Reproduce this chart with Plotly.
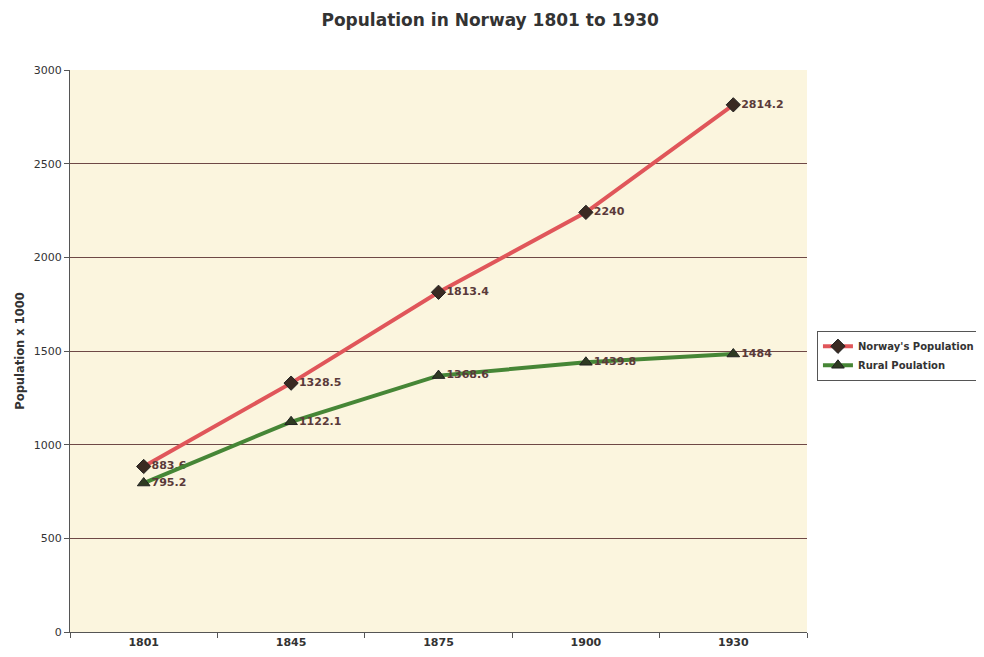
import plotly.graph_objects as go

years = ["1801", "1845", "1875", "1900", "1930"]
norway = [883.6, 1328.5, 1813.4, 2240, 2814.2]
rural = [795.2, 1122.1, 1368.6, 1439.8, 1484]
y_ticks = [0, 500, 1000, 1500, 2000, 2500, 3000]

font_family = "DejaVu Sans"
label_color = "#5a3a3a"

fig = go.Figure()
fig.add_trace(go.Scatter(
    x=years, y=norway, name="<b>Norway's Population</b>",
    mode="lines+markers+text",
    line=dict(color="#e0565a", width=4),
    marker=dict(symbol="diamond", size=11, color="#3a2a22", line=dict(color="#222", width=1)),
    text=["<b>%s</b>" % v for v in norway], textposition="middle right",
    textfont=dict(family=font_family, size=11, color=label_color),
))
fig.add_trace(go.Scatter(
    x=years, y=rural, name="<b>Rural Poulation</b>",
    mode="lines+markers+text",
    line=dict(color="#468636", width=4),
    marker=dict(symbol="triangle-up", size=11, color="#2e3a22", line=dict(color="#222", width=1)),
    text=["<b>%s</b>" % v for v in rural], textposition="middle right",
    textfont=dict(family=font_family, size=11, color=label_color),
))

fig.update_layout(
    width=984, height=657,
    margin=dict(l=60, r=184, t=62, b=33),
    paper_bgcolor="white",
    plot_bgcolor="#fbf5de",
    title=dict(text="<b>Population in Norway 1801 to 1930</b>", x=0.49, xanchor="center",
               y=0.982, yanchor="middle",
               font=dict(family=font_family, size=17, color="#333")),
    font=dict(family=font_family, size=10, color="#333"),
    showlegend=True,
    legend=dict(x=1.0135, y=0.536, xanchor="left", yanchor="top",
                bgcolor="white", bordercolor="#555", borderwidth=1,
                font=dict(family=font_family, size=10, color="#333"),
                tracegroupgap=0, itemwidth=30),
)
fig.update_xaxes(
    type="category", range=[-0.5, 4.5],
    showgrid=False, showline=True, linecolor="#555", linewidth=1,
    ticks="outside", ticklen=5, tickcolor="#555", tickson="boundaries",
    tickfont=dict(family=font_family, size=11, color="#333"),
    tickprefix="<b>", ticksuffix="</b>",
)
fig.update_yaxes(
    range=[0, 3000], tickvals=y_ticks,
    showgrid=True, gridcolor="#6e4846", gridwidth=1,
    showline=True, linecolor="#555", linewidth=1,
    ticks="outside", ticklen=5, tickcolor="#555",
    tickfont=dict(family=font_family, size=11, color="#333"),
    tickprefix="<b>", ticksuffix="</b>",
    title=dict(text="<b>Population x 1000</b>", font=dict(family=font_family, size=11.5, color="#333"), standoff=6),
    zeroline=False,
)

fig.write_html("out.html")
